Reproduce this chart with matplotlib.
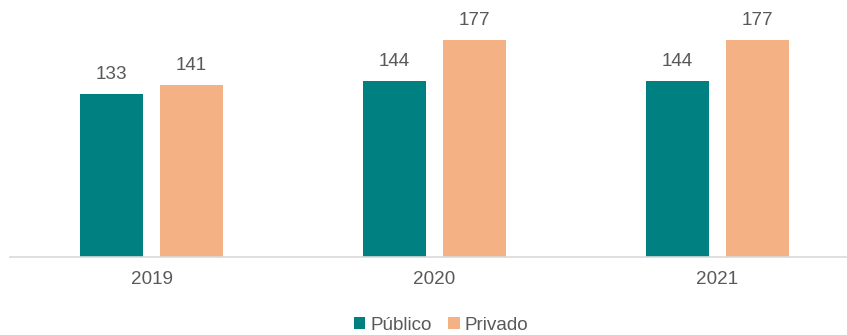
import numpy as np
import matplotlib.pyplot as plt

years = ['2019', '2020', '2021']
publico = [133, 144, 144]
privado = [141, 177, 177]

teal = '#008080'
peach = '#F4B183'
grey = '#595959'

plt.rcParams['font.family'] = ['Liberation Sans', 'DejaVu Sans']

fig = plt.figure(figsize=(8.47, 3.35), dpi=100)
# axes: left edge at x=10px, baseline at y=257px, top at the figure edge
ax = fig.add_axes([10 / 847, 78 / 335, 837 / 847, 257 / 335])

x = np.arange(len(years))
w = 0.2226
off = 0.1413
b1 = ax.bar(x - off, publico, w, color=teal, label='Público')
b2 = ax.bar(x + off, privado, w, color=peach, label='Privado')

for bars, vals in ((b1, publico), (b2, privado)):
    for rect, v in zip(bars, vals):
        ax.annotate(str(v), (rect.get_x() + rect.get_width() / 2, v),
                    xytext=(0, 10.8), textcoords='offset points',
                    ha='center', va='baseline', fontsize=13.6, color=grey)

ax.set_xlim(-0.5, -0.5 + 837 / 283)
ax.set_ylim(0, 210.1)
ax.set_xticks(x)
ax.set_xticklabels(years, fontsize=13.6, color=grey)
ax.tick_params(axis='x', length=0, pad=10)
ax.set_yticks([])
for s in ['top', 'right', 'left']:
    ax.spines[s].set_visible(False)
ax.spines['bottom'].set_color('#D9D9D9')
ax.spines['bottom'].set_linewidth(1.2)

fig.legend(loc='center', bbox_to_anchor=(441 / 847, 10 / 335), ncol=2,
           frameon=False, fontsize=13.6, handlelength=0.6, handleheight=0.6,
           handletextpad=0.25, columnspacing=0.9, labelcolor=grey)

fig.savefig('out.png', dpi=100)
